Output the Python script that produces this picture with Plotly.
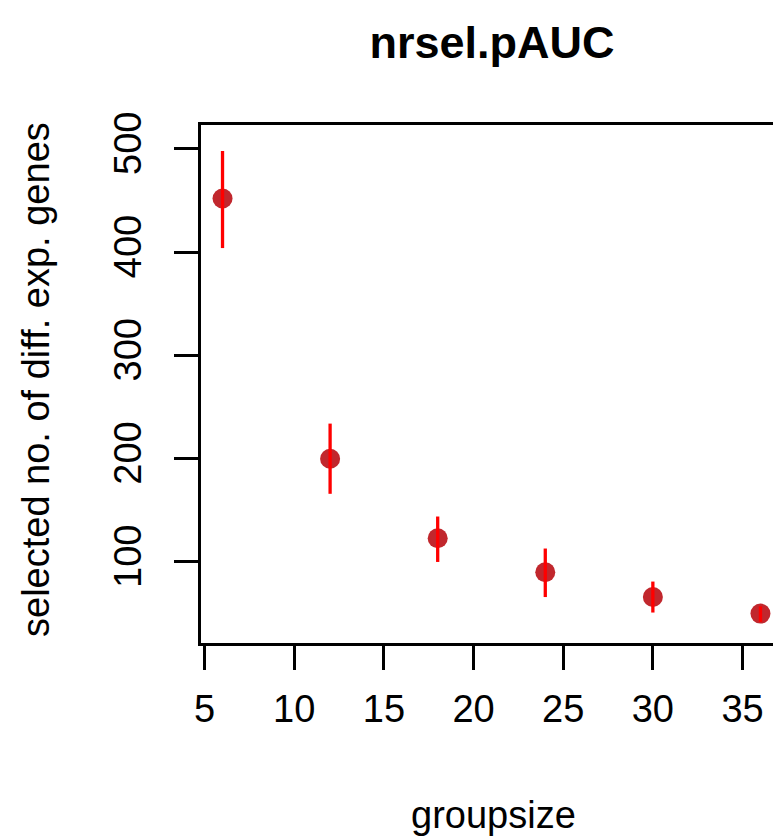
import plotly.graph_objects as go

groupsize = [6, 12, 18, 24, 30, 36]
mean_sel = [452, 200, 123, 90, 66, 50]
upper_sel = [498, 234, 144, 113, 81, 57]
lower_sel = [404, 166, 100, 66, 51, 42]
x_ticks = [5, 10, 15, 20, 25, 30, 35]
y_ticks = [100, 200, 300, 400, 500]

err_plus = [u - m for u, m in zip(upper_sel, mean_sel)]
err_minus = [m - l for m, l in zip(mean_sel, lower_sel)]

FONT = "Liberation Sans, Arial, sans-serif"

fig = go.Figure()
fig.add_trace(go.Scatter(
    x=groupsize, y=mean_sel, mode="markers",
    marker=dict(size=20, color="#C1272D", line=dict(width=0)),
    showlegend=False, hoverinfo="x+y"))
fig.add_trace(go.Scatter(
    x=groupsize, y=mean_sel, mode="markers",
    marker=dict(size=1, opacity=0),
    error_y=dict(type="data", symmetric=False, array=err_plus, arrayminus=err_minus,
                 color="#FF0000", thickness=3.3, width=0),
    showlegend=False, hoverinfo="skip"))

fig.update_layout(
    width=773, height=836,
    margin=dict(l=201, r=0, t=125, b=193),
    plot_bgcolor="white", paper_bgcolor="white",
    font=dict(family=FONT, color="black", size=38),
    title=dict(text="<b>nrsel.pAUC</b>", x=492 / 773, xanchor="center",
               y=1 - 42 / 836, yanchor="middle",
               font=dict(family=FONT, size=45, color="black")),
    xaxis=dict(range=[4.8, 36.7], tickvals=x_ticks, ticktext=[str(v) for v in x_ticks],
               showline=True, linecolor="black", linewidth=3, mirror=True,
               ticks="outside", ticklen=24, tickwidth=3, tickcolor="black",
               showgrid=False, zeroline=False, ticklabelstandoff=6,
               tickfont=dict(size=38, family=FONT, color="black")),
    yaxis=dict(range=[21.5, 523.2], tickvals=y_ticks, ticktext=[str(v) for v in y_ticks],
               showline=True, linecolor="black", linewidth=3, mirror=False,
               ticks="outside", ticklen=24, tickwidth=3, tickcolor="black",
               showgrid=False, zeroline=False, tickangle=-90, ticklabelstandoff=18,
               tickfont=dict(size=38, family=FONT, color="black")),
    annotations=[
        dict(text="groupsize", xref="paper", yref="paper", x=(493 - 201) / 572,
             y=-(815 - 643) / 518, xanchor="center", yanchor="middle", showarrow=False,
             font=dict(size=38, family=FONT, color="black")),
        dict(text="selected no. of diff. exp. genes", xref="paper", yref="paper",
             x=-(201 - 36) / 572, y=(643 - 380) / 518, xanchor="center", yanchor="middle",
             textangle=-90, showarrow=False,
             font=dict(size=38, family=FONT, color="black")),
    ],
)

fig.write_html("out.html", config={"displayModeBar": False},
               post_script="document.body.style.margin='0';document.body.style.overflow='hidden';")
